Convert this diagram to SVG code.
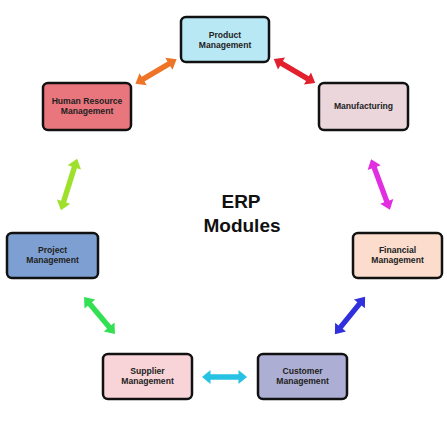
<svg xmlns="http://www.w3.org/2000/svg" width="447" height="431" viewBox="0 0 447 431">
<style>
.box{stroke:#111;stroke-width:2.5}
.t{font-family:"Liberation Sans",Arial,sans-serif;font-weight:bold;font-size:8.6px;fill:#222;text-anchor:middle}
.title{font-family:"Liberation Sans",Arial,sans-serif;font-weight:bold;font-size:19px;fill:#111;text-anchor:middle}
</style>
<defs>
<polygon id="a48" points="-24,0 -15,-7 -15,-2.7 15,-2.7 15,-7 24,0 15,7 15,2.7 -15,2.7 -15,7"/>
<polygon id="a54" points="-27,0 -18,-7 -18,-2.7 18,-2.7 18,-7 27,0 18,7 18,2.7 -18,2.7 -18,7"/>
<polygon id="a45" points="-22.5,0 -14,-7 -14,-2.7 14,-2.7 14,-7 22.5,0 14,7 14,2.7 -14,2.7 -14,7"/>
</defs>
<rect width="447" height="431" fill="#fff"/>
<g id="connectors">
<use href="#a48" fill="#ee7427" transform="translate(156,71.5) rotate(-30.8)"/>
<use href="#a48" fill="#e2202e" transform="translate(294.5,71) rotate(30.3)"/>
<use href="#a54" fill="#9fe02c" transform="translate(69,184.5) rotate(107.4)"/>
<use href="#a54" fill="#e02ee0" transform="translate(380.5,184.5) rotate(69.6)"/>
<use href="#a48" fill="#33e053" transform="translate(99.5,315.5) rotate(50)"/>
<use href="#a48" fill="#3030dc" transform="translate(350,315.5) rotate(129)"/>
<use href="#a45" fill="#27c2e3" transform="translate(224.5,377)"/>
</g>
<g id="title">
<text class="title" x="241" y="208">ERP</text>
<text class="title" x="242" y="232">Modules</text>
</g>
<g id="product">
<rect class="box" x="181" y="17" width="88" height="45" rx="5" fill="#b9e8f5"/>
<text class="t" x="225" y="37.5">Product</text>
<text class="t" x="225" y="47.5">Management</text>
</g>
<g id="hr">
<rect class="box" x="43" y="83" width="88" height="47" rx="5" fill="#e9767c"/>
<text class="t" x="87" y="103.5">Human Resource</text>
<text class="t" x="87" y="113.5">Management</text>
</g>
<g id="manufacturing">
<rect class="box" x="319" y="83" width="89" height="47" rx="5" fill="#ead6db"/>
<text class="t" x="363.5" y="108.5">Manufacturing</text>
</g>
<g id="project">
<rect class="box" x="7" y="233" width="91" height="45" rx="5" fill="#7e9fd1"/>
<text class="t" x="52.5" y="252.5">Project</text>
<text class="t" x="52.5" y="262.5">Management</text>
</g>
<g id="financial">
<rect class="box" x="353" y="233" width="89" height="45" rx="5" fill="#fbdccd"/>
<text class="t" x="397.5" y="252.5">Financial</text>
<text class="t" x="397.5" y="262.5">Management</text>
</g>
<g id="supplier">
<rect class="box" x="103" y="354" width="89" height="45" rx="5" fill="#f8d3d8"/>
<text class="t" x="147.5" y="373.5">Supplier</text>
<text class="t" x="147.5" y="383.5">Management</text>
</g>
<g id="customer">
<rect class="box" x="258" y="354" width="89" height="45" rx="5" fill="#adaed4"/>
<text class="t" x="302.5" y="373.5">Customer</text>
<text class="t" x="302.5" y="383.5">Management</text>
</g>
</svg>
